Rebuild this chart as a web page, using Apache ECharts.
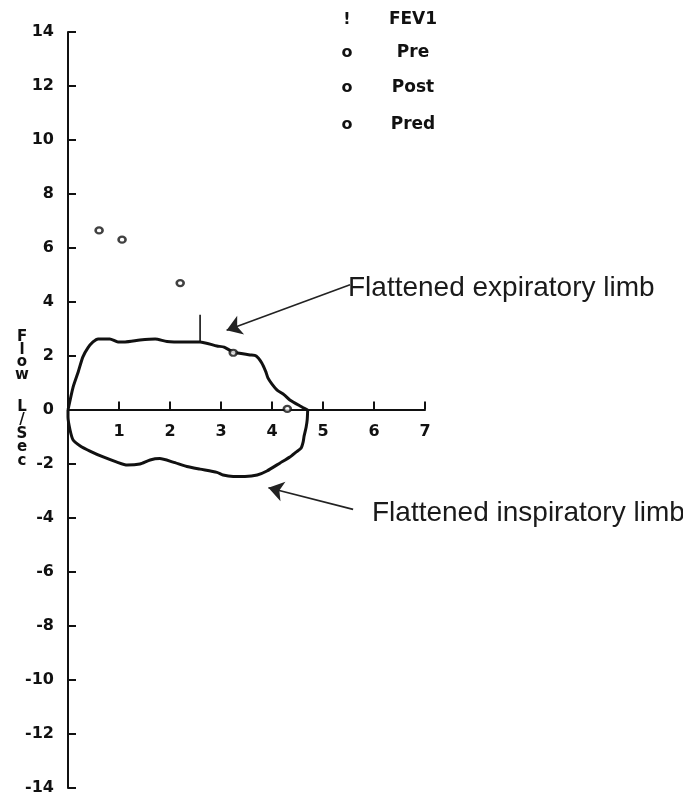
<!DOCTYPE html>
<html>
<head>
<meta charset="utf-8">
<script src="https://cdn.jsdelivr.net/npm/echarts@6/dist/echarts.min.js"></script>
<style>
  html, body { margin: 0; padding: 0; background: #ffffff; }
  #chart { width: 683px; height: 796px; }
</style>
</head>
<body>
<div id="chart"></div>
<script>
// Flow–volume loop: volume (L) on x, flow (L/sec) on y.
const volumeRange = [0, 7];
const flowRange = [-14, 14];

// Expiratory limb, from residual volume out to end of exhalation.
const expiratoryLimb = [
  [0, 0], [0.10, 0.85], [0.20, 1.41], [0.29, 1.96], [0.39, 2.30], [0.49, 2.52],
  [0.59, 2.63], [0.82, 2.63], [0.98, 2.52], [1.12, 2.52], [1.41, 2.59], [1.71, 2.63],
  [1.94, 2.54], [2.29, 2.52], [2.59, 2.52], [2.92, 2.37], [3.06, 2.33], [3.24, 2.15],
  [3.57, 2.04], [3.69, 2.00], [3.80, 1.74], [3.88, 1.41], [3.92, 1.19], [4.00, 0.96],
  [4.10, 0.74], [4.24, 0.56], [4.35, 0.37], [4.55, 0.15], [4.70, 0]
];

// Inspiratory limb, back from total lung capacity to the start.
const inspiratoryLimb = [
  [4.70, 0], [4.69, -0.37], [4.67, -0.63], [4.63, -0.96], [4.61, -1.19], [4.57, -1.41],
  [4.47, -1.56], [4.35, -1.74], [4.16, -1.96], [3.90, -2.26], [3.71, -2.41], [3.47, -2.46],
  [3.24, -2.46], [3.04, -2.41], [2.92, -2.31], [2.59, -2.19], [2.33, -2.09], [2.06, -1.93],
  [1.80, -1.80], [1.61, -1.85], [1.41, -2.00], [1.16, -2.04], [0.96, -1.93], [0.69, -1.74],
  [0.43, -1.52], [0.24, -1.33], [0.10, -1.11], [0.04, -0.74], [0, -0.26], [0, 0]
];

// FEV1 marker: a short vertical stroke at the 1-second volume.
const fev1Volume = 2.59;
const fev1Flows = [2.52, 3.53];

// Predicted values drawn as small open circles.
const predPoints = [[0.61, 6.65], [1.06, 6.31], [2.20, 4.70], [3.24, 2.12], [4.30, 0.04]];

// Legend rows and annotation callouts.
const legendLabels = ['FEV1', 'Pre', 'Post', 'Pred'];
const legendSymbols = ['!', 'o', 'o', 'o'];
const calloutTexts = ['Flattened expiratory limb', 'Flattened inspiratory limb'];
// Arrow [tail, tip] pairs in volume/flow units.
const calloutArrows = [
  [[5.53, 4.64], [3.11, 2.95]],
  [[5.59, -3.68], [3.93, -2.88]]
];

const axisFont = 'DejaVu Sans';
const ink = '#111111';

const gridTop = 32, gridBottom = 7, chartHeight = 796;
// Lift the volume axis (line, ticks and labels) up to zero flow.
const zeroOffset = -(chartHeight - gridTop - gridBottom) *
  (0 - flowRange[0]) / (flowRange[1] - flowRange[0]);

const chart = echarts.init(document.getElementById('chart'), null, { renderer: 'canvas' });

const legendY = [20, 53, 88, 125];
const legendGraphics = [];
legendLabels.forEach((label, i) => {
  legendGraphics.push({
    type: 'text', x: 413, y: legendY[i],
    style: {
      text: label, fill: ink, font: 'bold 17px "' + axisFont + '"',
      align: 'center', verticalAlign: 'middle'
    }
  });
  legendGraphics.push({
    type: 'text', x: 347, y: legendY[i],
    style: {
      text: legendSymbols[i], fill: ink, font: 'bold 16px "' + axisFont + '"',
      align: 'center', verticalAlign: 'middle'
    }
  });
});

const option = {
  backgroundColor: '#ffffff',
  animation: false,
  grid: { left: 68, right: 258, top: gridTop, bottom: gridBottom, containLabel: false },
  xAxis: {
    type: 'value',
    position: 'bottom',
    offset: zeroOffset,
    min: volumeRange[0], max: volumeRange[1], interval: 1,
    axisLine: { onZero: false, lineStyle: { color: ink, width: 2 } },
    axisTick: { inside: true, length: 8, lineStyle: { color: ink, width: 2 } },
    axisLabel: {
      showMinLabel: false, margin: 14, color: ink,
      fontFamily: axisFont, fontWeight: 'bold', fontSize: 16
    },
    splitLine: { show: false }
  },
  yAxis: {
    type: 'value',
    min: flowRange[0], max: flowRange[1], interval: 2,
    axisLine: { show: true, onZero: false, lineStyle: { color: ink, width: 2 } },
    axisTick: { show: true, inside: true, length: 8, lineStyle: { color: ink, width: 2 } },
    axisLabel: {
      margin: 14, color: ink,
      fontFamily: axisFont, fontWeight: 'bold', fontSize: 16
    },
    splitLine: { show: false }
  },
  series: [
    {
      name: 'Expiratory',
      type: 'line',
      data: expiratoryLimb,
      showSymbol: false,
      smooth: 0.2,
      lineStyle: { color: ink, width: 3 },
      z: 3,
      markLine: {
        silent: true,
        symbol: ['none', 'arrow'],
        symbolSize: 15,
        label: { show: false },
        lineStyle: { color: '#222222', width: 1.6, type: 'solid' },
        data: calloutArrows.map(a => [{ coord: a[0] }, { coord: a[1] }])
      }
    },
    {
      name: 'Inspiratory',
      type: 'line',
      data: inspiratoryLimb,
      showSymbol: false,
      smooth: 0.2,
      lineStyle: { color: ink, width: 3 },
      z: 3
    },
    {
      name: 'FEV1',
      type: 'line',
      data: fev1Flows.map(f => [fev1Volume, f]),
      showSymbol: false,
      lineStyle: { color: ink, width: 1.6 },
      z: 3
    },
    {
      name: 'Pred',
      type: 'scatter',
      data: predPoints,
      symbol: 'circle',
      symbolSize: [7, 6],
      itemStyle: { color: '#ffffff', borderColor: ink, borderWidth: 2.4 },
      z: 4
    }
  ],
  graphic: [
    // Vertical, stacked y-axis title
    {
      type: 'text', x: 22, y: 331,
      style: {
        text: 'F\nl\no\nw', fill: ink, font: 'bold 15px "' + axisFont + '"',
        align: 'center', verticalAlign: 'top', lineHeight: 12.5
      }
    },
    {
      type: 'text', x: 22, y: 400,
      style: {
        text: 'L\n/\nS\ne\nc', fill: ink, font: 'bold 15px "' + axisFont + '"',
        align: 'center', verticalAlign: 'top', lineHeight: 13.5
      }
    },
    {
      type: 'text', x: 348, y: 288,
      style: {
        text: calloutTexts[0], fill: '#1a1a1a', font: '28px "Liberation Sans"',
        align: 'left', verticalAlign: 'middle'
      }
    },
    {
      type: 'text', x: 372, y: 513,
      style: {
        text: calloutTexts[1], fill: '#1a1a1a', font: '28px "Liberation Sans"',
        align: 'left', verticalAlign: 'middle'
      }
    }
  ].concat(legendGraphics)
};

chart.setOption(option);
</script>
</body>
</html>
